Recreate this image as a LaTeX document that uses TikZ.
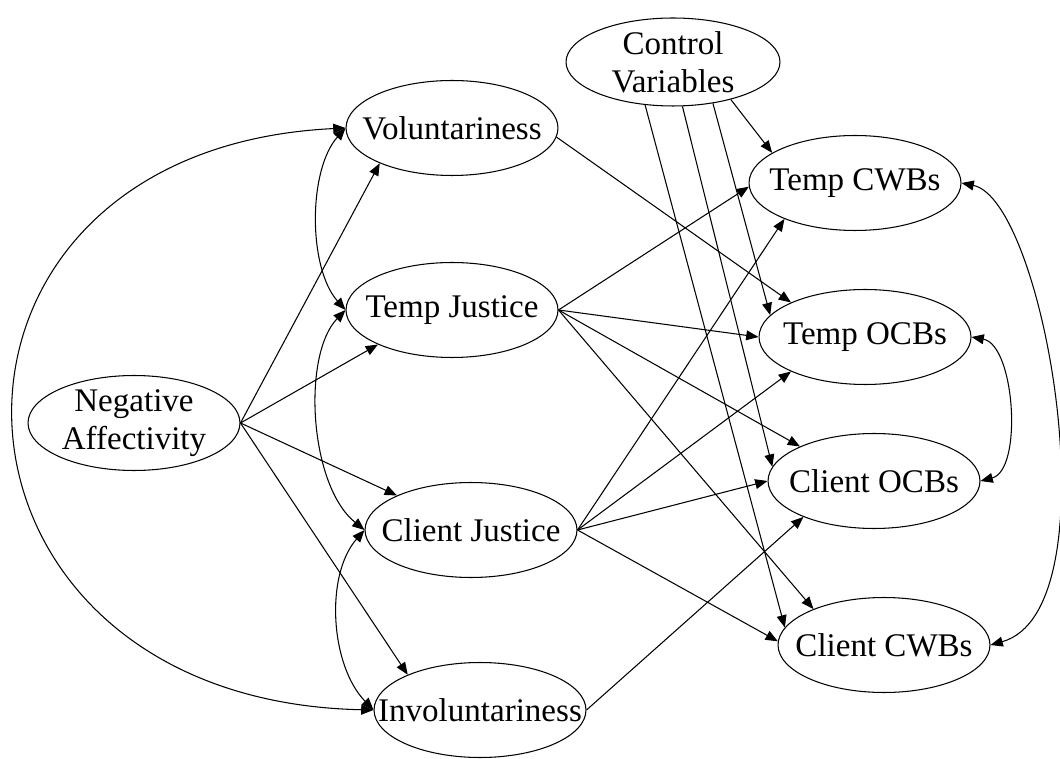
\documentclass[tikz,border=0pt]{standalone}
\usepackage{fontspec}
\setmainfont{Liberation Serif}
\usetikzlibrary{arrows.meta,shapes.geometric}
\tikzset{every picture/.style={line width=0.6pt}}
\tikzset{
  var/.style={draw, ellipse, inner sep=0pt, minimum width=4.24cm, minimum height=1.9cm},
  vtext/.style={font=\fontsize{18.8}{21.8}\selectfont, align=center},
  effect/.style={-{Triangle[length=7pt,width=5.6pt]}},
  cov/.style={{Triangle[length=7pt,width=5.6pt]}-{Triangle[length=7pt,width=5.6pt]}},
}

\begin{document}
\begin{tikzpicture}[x=0.02cm, y=-0.02cm]
    \useasboundingbox (0,0) rectangle (1060,759);

    % === Left: predictors ===
    \node[var, label={[vtext]center:{Negative\\Affectivity}}] (na) at (134,423) {};
    \node[var, label={[vtext]center:Voluntariness}] (vol) at (452,128) {};
    \node[var, label={[vtext]center:Temp Justice}] (tj) at (452,310) {};
    \node[var, label={[vtext]center:Client Justice}] (cj) at (471,530) {};
    \node[var, label={[vtext]center:Involuntariness}] (inv) at (480,710) {};

    % === Right: outcomes ===
    \node[var, minimum width=4.28cm, minimum height=1.76cm,
          label={[vtext]center:{Control\\Variables}}] (ctrl) at (673,62) {};
    \node[var, label={[vtext]center:Temp CWBs}] (tcwb) at (855,183) {};
    \node[var, label={[vtext]center:Temp OCBs}] (tocb) at (865,337) {};
    \node[var, label={[vtext]center:Client OCBs}] (cocb) at (874,481) {};
    \node[var, label={[vtext]center:Client CWBs}] (ccwb) at (884,645) {};

    % Paths from Negative Affectivity
    \draw[effect] (na.east) -- (vol.206);
    \draw[effect] (na.east) -- (tj.205);
    \draw[effect] (na.east) -- (cj.155);
    \draw[effect] (na.east) -- (inv.154);

    % Paths to outcomes
    \draw[effect] (vol.355) -- (tocb.155);
    \foreach \t/\a in {tcwb/182, tocb/180, cocb/155, ccwb/153}
        \draw[effect] (tj.east) -- (\t.\a);
    \foreach \t/\a in {tcwb/207, tocb/205, cocb/180, ccwb/178}
        \draw[effect] (cj.east) -- (\t.\a);
    \draw[effect] (inv.east) -- (cocb.207);

    % Control variables
    \foreach \s/\t/\a in {237/ccwb/170, 282/cocb/172, 314/tocb/167, 327/tcwb/160}
        \draw[effect] (ctrl.\s) -- (\t.\a);

    % Covariances
    \draw[cov] (vol.west) .. controls (-110,150) and (-90,700) .. (inv.west);
    \draw[cov] (vol.west) .. controls (308,170) and (308,268) .. (tj.west);
    \draw[cov] (tj.west) .. controls (302,355) and (309,485) .. (cj.west);
    \draw[cov] (cj.west) .. controls (325,575) and (330,665) .. (inv.west);
    \draw[cov] (tcwb.east) .. controls (1045,200) and (1115,610) .. (ccwb.east);
    \draw[cov] (tocb.east) .. controls (1015,345) and (1023,470) .. (cocb.east);
\end{tikzpicture}
\end{document}
